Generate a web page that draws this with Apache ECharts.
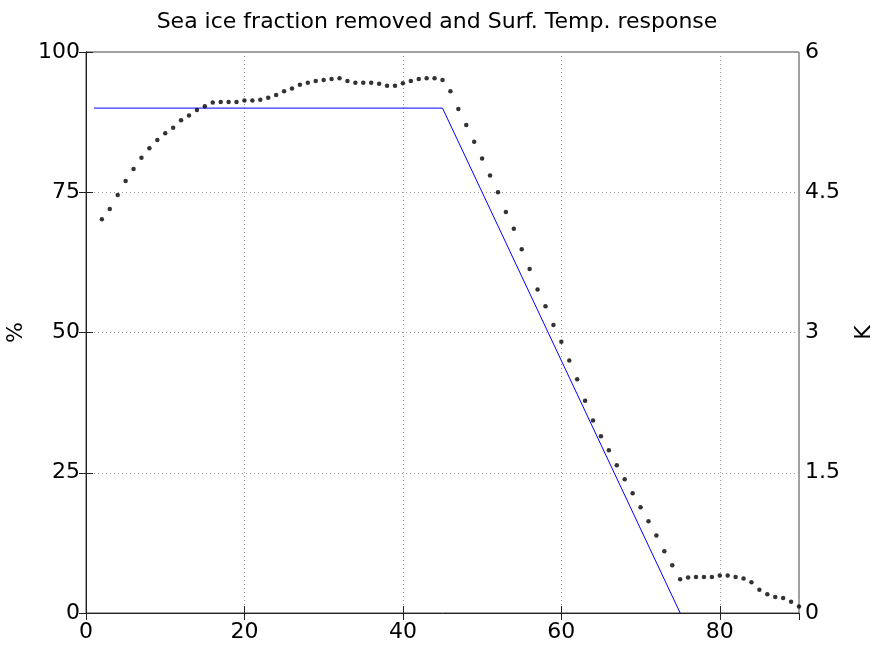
<!DOCTYPE html>
<html>
<head>
<meta charset="utf-8">
<script src="https://cdn.jsdelivr.net/npm/echarts@6/dist/echarts.min.js"></script>
<style>
  html, body { margin: 0; padding: 0; background: #fff; }
  #chart { width: 874px; height: 652px; }
</style>
</head>
<body>
<div id="chart"></div>
<script>
// sea ice fraction removed (%), piecewise line
const iceLat = [1, 45, 75]
const iceFrac = [90, 90, 0]

// surface temperature response (K), one dot per degree latitude
const tempLat = [
  2, 3, 4, 5, 6, 7, 8, 9, 10, 11, 12, 13, 14, 15, 16, 17, 18, 19, 20,
  21, 22, 23, 24, 25, 26, 27, 28, 29, 30, 31, 32, 33, 34, 35, 36, 37, 38, 39, 40,
  41, 42, 43, 44, 45, 46, 47, 48, 49, 50, 51, 52, 53, 54, 55, 56, 57, 58, 59, 60,
  61, 62, 63, 64, 65, 66, 67, 68, 69, 70, 71, 72, 73, 74, 75, 76, 77, 78, 79, 80,
  81, 82, 83, 84, 85, 86, 87, 88, 89, 90
]
const tempResp = [
  4.21, 4.32, 4.47, 4.62, 4.75, 4.87, 4.97, 5.06, 5.13, 5.19, 5.27, 5.32, 5.38, 5.42, 5.46, 5.465, 5.465, 5.465, 5.48,
  5.48, 5.49, 5.51, 5.54, 5.58, 5.61, 5.65, 5.67, 5.69, 5.70, 5.71, 5.72, 5.69, 5.67, 5.67, 5.67, 5.66, 5.64, 5.64, 5.665,
  5.69, 5.71, 5.72, 5.72, 5.70, 5.58, 5.39, 5.22, 5.04, 4.86, 4.68, 4.50, 4.29, 4.11, 3.89, 3.68, 3.46, 3.28, 3.08, 2.90,
  2.70, 2.50, 2.27, 2.06, 1.89, 1.74, 1.58, 1.43, 1.28, 1.13, 0.98, 0.83, 0.66, 0.51, 0.36, 0.38, 0.385, 0.385, 0.385, 0.40,
  0.40, 0.385, 0.37, 0.33, 0.25, 0.20, 0.17, 0.16, 0.12, 0.07
]

const titleText = 'Sea ice fraction removed and Surf. Temp. response'
const leftName = '%'
const rightName = 'K'

const FONT = 'DejaVu Sans'
const axisColor = '#222'
const gridColor = '#9a9a9a'

const chart = echarts.init(document.getElementById('chart'))

const labelStyle = { color: '#000', fontSize: 22, fontFamily: FONT }
const tickInside = { show: true, inside: true, length: 7, lineStyle: { color: axisColor } }

const option = {
  animation: false,
  backgroundColor: '#fff',
  title: {
    text: titleText,
    left: 'center',
    top: 6,
    textStyle: { color: '#000', fontSize: 22, fontWeight: 'normal', fontFamily: FONT }
  },
  grid: {
    left: 86, right: 75, top: 52, bottom: 39,
    containLabel: false,
    outerBoundsMode: 'none',
    show: true,
    borderColor: '#444',
    borderWidth: 1
  },
  xAxis: [
    {
      type: 'value',
      min: 0, max: 90, interval: 20,
      axisLine: { show: true, lineStyle: { color: axisColor } },
      axisTick: tickInside,
      axisLabel: Object.assign({ margin: 8, showMaxLabel: false }, labelStyle),
      splitLine: { show: true, lineStyle: { color: gridColor, type: [1, 3] } }
    },
    {
      type: 'value',
      position: 'top',
      min: 0, max: 90, interval: 20,
      axisLine: { show: false },
      axisTick: tickInside,
      axisLabel: { show: false },
      splitLine: { show: false }
    }
  ],
  yAxis: [
    {
      type: 'value',
      min: 0, max: 100, interval: 25,
      name: leftName,
      nameLocation: 'middle',
      nameGap: 56,
      nameRotate: 90,
      nameTextStyle: { color: '#000', fontSize: 22, fontFamily: FONT },
      axisLine: { show: true, lineStyle: { color: axisColor } },
      axisTick: tickInside,
      axisLabel: Object.assign({ margin: 6 }, labelStyle),
      splitLine: { show: true, lineStyle: { color: gridColor, type: [1, 3] } }
    },
    {
      type: 'value',
      position: 'right',
      min: 0, max: 6, interval: 1.5,
      name: rightName,
      nameLocation: 'middle',
      nameGap: 54,
      nameRotate: 90,
      nameTextStyle: { color: '#000', fontSize: 22, fontFamily: FONT },
      axisLine: { show: true, lineStyle: { color: axisColor } },
      axisTick: tickInside,
      axisLabel: Object.assign({ margin: 6 }, labelStyle),
      splitLine: { show: false }
    }
  ],
  series: [
    {
      name: 'ice fraction',
      type: 'line',
      xAxisIndex: 0,
      yAxisIndex: 0,
      data: iceLat.map((x, i) => [x, iceFrac[i]]),
      showSymbol: false,
      symbol: 'none',
      lineStyle: { color: '#0000ff', width: 1 },
      z: 3
    },
    {
      name: 'temperature',
      type: 'scatter',
      xAxisIndex: 0,
      yAxisIndex: 1,
      data: tempLat.map((x, i) => [x, tempResp[i]]),
      symbol: 'circle',
      symbolSize: 4.5,
      itemStyle: { color: '#000' },
      clip: false,
      z: 4
    }
  ]
}

chart.setOption(option)
</script>
</body>
</html>
